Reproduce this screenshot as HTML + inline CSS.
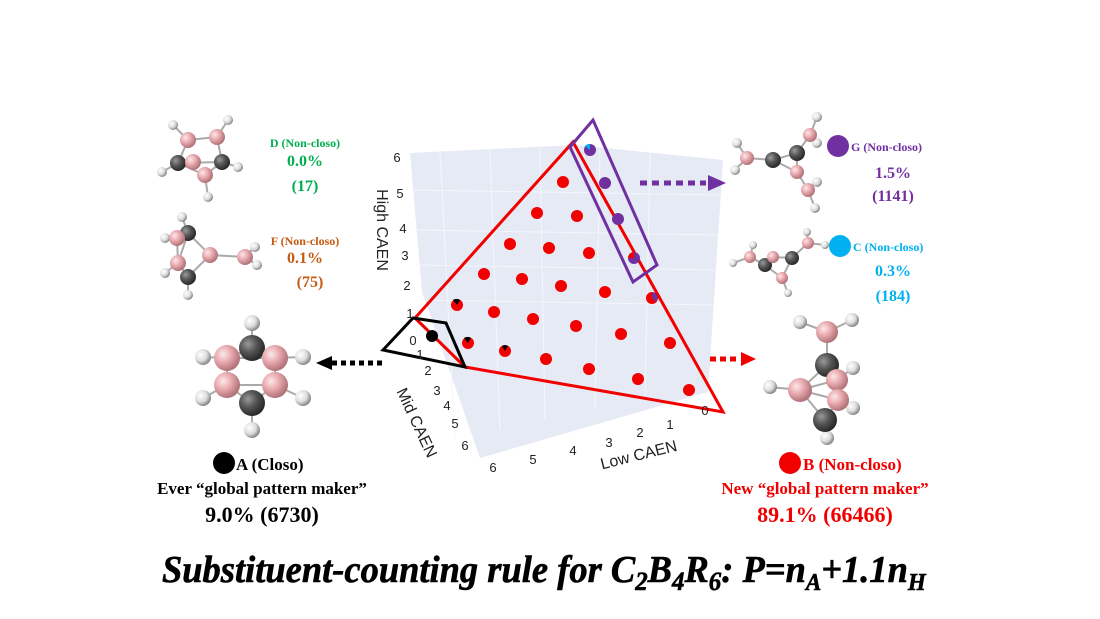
<!DOCTYPE html>
<html><head><meta charset="utf-8"><style>
html,body{margin:0;padding:0;background:#fff;width:1100px;height:619px;overflow:hidden}
svg{display:block}
.s{font-family:"Liberation Serif",serif;font-weight:bold}
.a{font-family:"Liberation Sans",sans-serif}
</style></head><body>
<svg width="1100" height="619" viewBox="0 0 1100 619" xmlns="http://www.w3.org/2000/svg">
<defs>
<radialGradient id="gb" cx="35%" cy="35%" r="65%"><stop offset="0" stop-color="#fde8ea"/><stop offset="0.5" stop-color="#e8a9ae"/><stop offset="1" stop-color="#b07479"/></radialGradient>
<radialGradient id="gc" cx="35%" cy="35%" r="65%"><stop offset="0" stop-color="#9a9a9a"/><stop offset="0.5" stop-color="#555"/><stop offset="1" stop-color="#2a2a2a"/></radialGradient>
<radialGradient id="gh" cx="35%" cy="35%" r="65%"><stop offset="0" stop-color="#fff"/><stop offset="0.6" stop-color="#ddd"/><stop offset="1" stop-color="#8a8a8a"/></radialGradient>
</defs>
<polygon points="410,153 575,145 723,160 708,392 480,458 422,292" fill="#e5eaf5"/>
<g stroke="#f4f6fb" stroke-width="1" fill="none">
<line x1="440" y1="152" x2="455" y2="440"/><line x1="490" y1="150" x2="500" y2="430"/><line x1="540" y1="148" x2="545" y2="420"/><line x1="600" y1="150" x2="595" y2="410"/><line x1="650" y1="154" x2="645" y2="400"/>
<line x1="412" y1="190" x2="720" y2="195"/><line x1="414" y1="230" x2="718" y2="235"/><line x1="416" y1="265" x2="716" y2="270"/><line x1="420" y1="300" x2="714" y2="305"/>
</g>
<polygon points="573,142 723,412 465,367 415,318" fill="none" stroke="#f20000" stroke-width="3"/>
<polygon points="413,318 446,323 465,367 383,350" fill="none" stroke="#000" stroke-width="3"/>
<polygon points="593,120 657,265 633,282 570,147" fill="none" stroke="#7030a0" stroke-width="3"/>
<g fill="#f20000">
<circle cx="563" cy="182" r="6"/><circle cx="537" cy="213" r="6"/><circle cx="577" cy="216" r="6"/>
<circle cx="510" cy="244" r="6"/><circle cx="549" cy="248" r="6"/><circle cx="589" cy="253" r="6"/>
<circle cx="484" cy="274" r="6"/><circle cx="522" cy="279" r="6"/><circle cx="561" cy="286" r="6"/><circle cx="605" cy="292" r="6"/><circle cx="652" cy="298" r="6"/>
<circle cx="457" cy="305" r="6"/><circle cx="494" cy="312" r="6"/><circle cx="533" cy="319" r="6"/><circle cx="576" cy="326" r="6"/><circle cx="621" cy="334" r="6"/><circle cx="670" cy="343" r="6"/>
<circle cx="468" cy="343" r="6"/><circle cx="505" cy="351" r="6"/><circle cx="546" cy="359" r="6"/><circle cx="589" cy="369" r="6"/><circle cx="638" cy="379" r="6"/><circle cx="689" cy="390" r="6"/>
</g>
<g fill="#7030a0">
<circle cx="590" cy="150" r="6"/><circle cx="605" cy="183" r="6"/><circle cx="618" cy="219" r="6"/><circle cx="634" cy="258" r="6"/>
</g>
<path d="M652,298 L652,292 A6,6 0 0 1 656,302 Z" fill="#7030a0"/>
<path d="M590,150 L585,146 A6,6 0 0 1 590,144 Z" fill="#00b0f0"/>
<path d="M634,258 L628,258 A6,6 0 0 1 634,252 Z" fill="#f20000"/>
<circle cx="432" cy="336" r="6" fill="#000"/>
<path d="M457,305 L453,300 A6,6 0 0 1 460,300 Z" fill="#000"/>
<path d="M468,343 L464,338 A6,6 0 0 1 471,338 Z" fill="#000"/>
<path d="M505,351 L502,346 A6,6 0 0 1 508,346 Z" fill="#000"/>
<g class="a" font-size="13" fill="#222" text-anchor="middle">
<text x="397" y="162">6</text><text x="400" y="198">5</text><text x="403" y="233">4</text><text x="405" y="260">3</text><text x="407" y="290">2</text><text x="410" y="318">1</text><text x="413" y="345">0</text>
<text x="420" y="359">1</text><text x="428" y="375">2</text><text x="437" y="395">3</text><text x="447" y="410">4</text><text x="455" y="428">5</text><text x="465" y="450">6</text>
<text x="493" y="472">6</text><text x="533" y="464">5</text><text x="573" y="455">4</text><text x="609" y="447">3</text><text x="640" y="437">2</text><text x="670" y="429">1</text><text x="705" y="415">0</text>
</g>
<text class="a" font-size="16" fill="#222" text-anchor="middle" transform="translate(377,230) rotate(90)">High CAEN</text>
<text class="a" font-size="16" fill="#222" text-anchor="middle" transform="translate(412,425) rotate(65)">Mid CAEN</text>
<text class="a" font-size="16" fill="#222" text-anchor="middle" transform="translate(640,460) rotate(-14)">Low CAEN</text>
<line x1="382" y1="363" x2="330" y2="363" stroke="#000" stroke-width="5" stroke-dasharray="5,4"/>
<polygon points="316,363 332,356 332,370" fill="#000"/>
<line x1="640" y1="183" x2="706" y2="183" stroke="#7030a0" stroke-width="5" stroke-dasharray="7,5"/>
<polygon points="726,183 708,175 708,191" fill="#7030a0"/>
<line x1="710" y1="359" x2="740" y2="359" stroke="#f20000" stroke-width="5" stroke-dasharray="6,4"/>
<polygon points="756,359 741,352 741,366" fill="#f20000"/>
<g stroke="#aaa" stroke-width="2" fill="none">
<path d="M252,348 L227,358 L227,385 L252,403 L275,385 L275,358 Z M252,323 L252,348 M203,357 L227,358 M303,357 L275,358 M203,398 L227,385 M303,398 L275,385 M252,403 L252,430 M227,358 L275,358 M227,385 L275,385"/>
<path d="M188,140 L217,137 L222,162 L205,175 L178,163 Z M173,125 L188,140 M228,120 L217,137 M162,172 L178,163 M238,167 L222,162 M208,197 L205,175 M178,163 L222,162"/>
<path d="M188,233 L177,238 L178,263 L188,277 L210,255 Z M188,233 L178,263 M210,255 L245,257 M182,217 L188,233 M165,238 L177,238 M165,273 L178,263 M188,295 L188,277 M255,247 L245,257 M257,265 L245,257"/>
<path d="M747,158 L773,160 L797,153 L810,135 M773,160 L797,172 L797,153 M797,172 L808,190 M737,143 L747,158 M735,170 L747,158 M817,117 L810,135 M817,143 L810,135 M817,182 L808,190 M815,208 L808,190"/>
<path d="M750,257 L765,265 L773,257 L792,258 L808,243 M765,265 L782,278 L792,258 M753,245 L750,257 M733,263 L750,257 M807,232 L808,243 M825,245 L808,243 M788,293 L782,278"/>
<path d="M827,332 L827,365 L800,390 L825,420 L838,400 L837,380 L827,365 M800,390 L837,380 M800,390 L838,400 M800,322 L827,332 M852,320 L827,332 M853,368 L837,380 M770,387 L800,390 M853,408 L838,400 M827,438 L825,420"/>
</g>
<g fill="url(#gh)">
<circle cx="252" cy="323" r="8"/><circle cx="203" cy="357" r="8"/><circle cx="303" cy="357" r="8"/><circle cx="203" cy="398" r="8"/><circle cx="303" cy="398" r="8"/><circle cx="252" cy="430" r="8"/>
<circle cx="173" cy="125" r="5"/><circle cx="228" cy="120" r="5"/><circle cx="162" cy="172" r="5"/><circle cx="238" cy="167" r="5"/><circle cx="208" cy="197" r="5"/>
<circle cx="182" cy="217" r="5"/><circle cx="165" cy="238" r="5"/><circle cx="165" cy="273" r="5"/><circle cx="188" cy="295" r="5"/><circle cx="255" cy="247" r="5"/><circle cx="257" cy="265" r="5"/>
<circle cx="737" cy="143" r="5"/><circle cx="735" cy="170" r="5"/><circle cx="817" cy="117" r="5"/><circle cx="817" cy="143" r="5"/><circle cx="817" cy="182" r="5"/><circle cx="815" cy="208" r="5"/>
<circle cx="753" cy="245" r="4"/><circle cx="733" cy="263" r="4"/><circle cx="807" cy="232" r="4"/><circle cx="825" cy="245" r="4"/><circle cx="788" cy="293" r="4"/>
<circle cx="800" cy="322" r="7"/><circle cx="852" cy="320" r="7"/><circle cx="853" cy="368" r="7"/><circle cx="770" cy="387" r="7"/><circle cx="853" cy="408" r="7"/><circle cx="827" cy="438" r="7"/>
</g>
<g fill="url(#gc)">
<circle cx="252" cy="348" r="13"/><circle cx="252" cy="403" r="13"/>
<circle cx="178" cy="163" r="8"/><circle cx="222" cy="162" r="8"/>
<circle cx="188" cy="233" r="8"/><circle cx="188" cy="277" r="8"/>
<circle cx="773" cy="160" r="8"/><circle cx="797" cy="153" r="8"/>
<circle cx="765" cy="265" r="7"/><circle cx="792" cy="258" r="7"/>
<circle cx="827" cy="365" r="12"/><circle cx="825" cy="420" r="12"/>
</g>
<g fill="url(#gb)">
<circle cx="227" cy="358" r="13"/><circle cx="275" cy="358" r="13"/><circle cx="227" cy="385" r="13"/><circle cx="275" cy="385" r="13"/>
<circle cx="188" cy="140" r="8"/><circle cx="217" cy="137" r="8"/><circle cx="193" cy="162" r="8"/><circle cx="205" cy="175" r="8"/>
<circle cx="177" cy="238" r="8"/><circle cx="178" cy="263" r="8"/><circle cx="210" cy="255" r="8"/><circle cx="245" cy="257" r="8"/>
<circle cx="747" cy="158" r="7"/><circle cx="810" cy="135" r="7"/><circle cx="797" cy="172" r="7"/><circle cx="808" cy="190" r="7"/>
<circle cx="750" cy="257" r="6"/><circle cx="773" cy="257" r="6"/><circle cx="782" cy="278" r="6"/><circle cx="808" cy="243" r="6"/>
<circle cx="827" cy="332" r="11"/><circle cx="800" cy="390" r="12"/><circle cx="837" cy="380" r="11"/><circle cx="838" cy="400" r="11"/>
</g>
<g class="s" text-anchor="middle">
<text x="305" y="147" font-size="12" fill="#00b050">D (Non-closo)</text>
<text x="305" y="166" font-size="16" fill="#00b050">0.0%</text>
<text x="305" y="191" font-size="16" fill="#00b050">(17)</text>
<text x="305" y="245" font-size="12" fill="#c55a11">F (Non-closo)</text>
<text x="305" y="263" font-size="16" fill="#c55a11">0.1%</text>
<text x="310" y="287" font-size="16" fill="#c55a11">(75)</text>
<text x="893" y="178" font-size="16" fill="#7030a0">1.5%</text>
<text x="893" y="201" font-size="16" fill="#7030a0">(1141)</text>
<text x="893" y="276" font-size="16" fill="#00b0f0">0.3%</text>
<text x="893" y="301" font-size="16" fill="#00b0f0">(184)</text>
<text x="262" y="494" font-size="17" fill="#000">Ever “global pattern maker”</text>
<text x="262" y="522" font-size="22" fill="#000">9.0% (6730)</text>
<text x="825" y="494" font-size="17" fill="#f20000">New “global pattern maker”</text>
<text x="825" y="522" font-size="22" fill="#f20000">89.1% (66466)</text>
</g>
<circle cx="838" cy="146" r="11" fill="#7030a0"/>
<text class="s" x="851" y="151" font-size="12" fill="#7030a0">G (Non-closo)</text>
<circle cx="840" cy="246" r="11" fill="#00b0f0"/>
<text class="s" x="853" y="251" font-size="12" fill="#00b0f0">C (Non-closo)</text>
<circle cx="224" cy="463" r="11" fill="#000"/>
<text class="s" x="236" y="470" font-size="17" fill="#000">A (Closo)</text>
<circle cx="790" cy="463" r="11" fill="#f20000"/>
<text class="s" x="803" y="470" font-size="17" fill="#f20000">B (Non-closo)</text>
<text class="s" font-style="italic" font-size="38" fill="#000" stroke="#000" stroke-width="0.6" transform="translate(162,582) scale(0.96,1)">Substituent-counting rule for C<tspan font-size="26" dy="8">2</tspan><tspan dy="-8">B</tspan><tspan font-size="26" dy="8">4</tspan><tspan dy="-8">R</tspan><tspan font-size="26" dy="8">6</tspan><tspan dy="-8">: P=n</tspan><tspan font-size="24" dy="8">A</tspan><tspan dy="-8">+1.1n</tspan><tspan font-size="24" dy="8">H</tspan></text>
</svg>
</body></html>
